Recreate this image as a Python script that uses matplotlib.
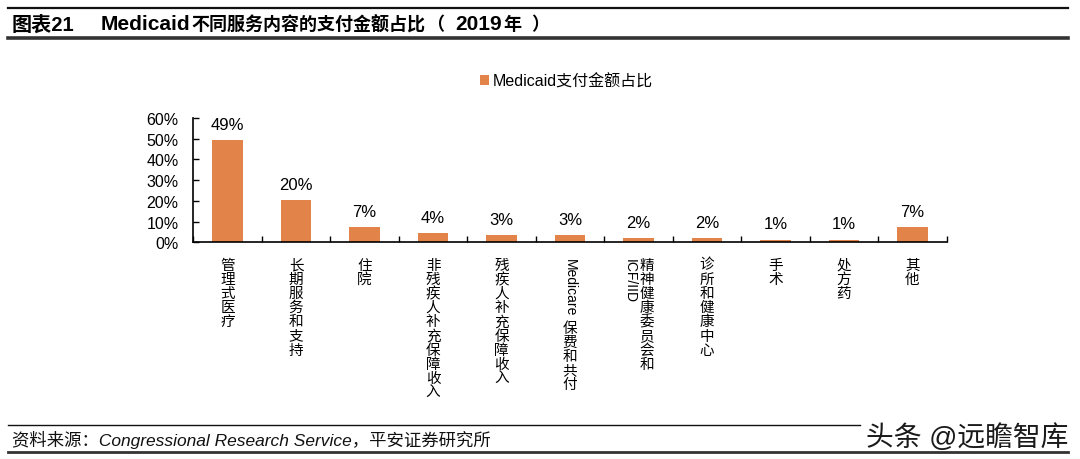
import matplotlib
matplotlib.use("Agg")
import matplotlib.pyplot as plt
import numpy as np

FAM = ['Liberation Sans', 'Noto Sans CJK SC', 'DejaVu Sans']
plt.rcParams['font.family'] = FAM

categories = ['管理式医疗', '长期服务和支持', '住院', '非残疾人补充保障收入', '残疾人补充保障收入',
              'Medicare 保费和共付', '精神健康委员会和\nICF/IID', '诊所和健康中心', '手术', '处方药', '其他']
values = [49.4, 20.4, 7.4, 4.4, 3.6, 3.6, 2.1, 2.1, 1.3, 1.3, 7.4]
value_labels = ['49%', '20%', '7%', '4%', '3%', '3%', '2%', '2%', '1%', '1%', '7%']
yticks = [0, 10, 20, 30, 40, 50, 60]
series_name = 'Medicaid支付金额占比'
title_num = '图表21'
title_parts = ['Medicaid', '不同服务内容的支付金额占比', '（  ', '2019', '年', '  ）']
title_sizes = [15, 13, 13, 15, 13, 13]
source_text = '资料来源：Congressional Research Service，平安证券研究所'
watermark = '头条 @远瞻智库'

BAR = '#E2844A'
W, H = 1080, 460
fig = plt.figure(figsize=(W / 100, H / 100), dpi=100)
renderer = fig.canvas.get_renderer()

# header / footer lines
def hline(y, x0, x1, lw, color):
    fig.add_artist(plt.Line2D([x0 / W, x1 / W], [1 - y / H, 1 - y / H], lw=lw, color=color))

hline(8.5, 8, 1068, 1.6, '#111111')
hline(38.5, 8, 1068, 2.6, '#333333')
hline(426, 8, 860, 1.0, '#111111')
hline(453, 8, 1068, 2.0, '#333333')

base_y = 1 - 30.5 / H
fig.text(12 / W, base_y, title_num, fontsize=14.5, fontweight='bold', va='baseline', ha='left')
xpos = 101.0
for part, fs in zip(title_parts, title_sizes):
    t = fig.text(xpos / W, base_y, part, fontsize=fs, fontweight='bold', va='baseline', ha='left')
    bb = t.get_window_extent(renderer)
    xpos += bb.width + 1.0

fig.text(12 / W, 1 - 440 / H, source_text, fontsize=12.5, style='italic', va='center', ha='left', color='#111111')
fig.text(1068 / W, 1 - 438 / H, watermark, fontsize=20, va='center', ha='right', color='#1a1a1a')

ax = fig.add_axes([193.3 / W, 216.7 / H, (946.7 - 193.3) / W, (243.3 - 119) / H])
x = np.arange(len(categories))
ax.bar(x, values, width=0.45, color=BAR, label=series_name, zorder=2)
ax.set_xlim(-0.5, len(categories) - 0.5)
ax.set_ylim(0, 60)
ax.set_yticks(yticks)
ax.set_yticklabels([f'{v}%' for v in yticks], fontsize=11.5)
ax.tick_params(axis='y', direction='in', length=4, pad=10.5, width=1)
ax.set_xticks(np.arange(-0.5, len(categories), 1))
ax.set_xticklabels([])
ax.tick_params(axis='x', direction='in', length=4, width=1)
for s in ['top', 'right']:
    ax.spines[s].set_visible(False)
for s in ['left', 'bottom']:
    ax.spines[s].set_linewidth(1.2)
    ax.spines[s].set_color('black')

for xi, v, lab in zip(x, values, value_labels):
    ax.annotate(lab, (xi, v), xytext=(0, 6), textcoords='offset points',
                ha='center', va='bottom', fontsize=12)

leg = ax.legend(loc='center', bbox_to_anchor=(566 / W, 1 - 82 / H), bbox_transform=fig.transFigure,
                frameon=False, fontsize=11.5, handlelength=0.6, handleheight=0.6, handletextpad=0.2,
                borderaxespad=0)

# vertical (stacked) category labels
LFS = 10.5
STEP = 14.2 * 0.72   # points per CJK char
TOP = 11.0           # points below axis

def is_cjk(ch):
    return ord(ch) > 0x2E80

def split_runs(line):
    runs = []
    buf = ''
    for ch in line:
        if is_cjk(ch):
            if buf:
                runs.append(('latin', buf)); buf = ''
            runs.append(('cjk', ch))
        else:
            buf += ch
    if buf:
        runs.append(('latin', buf))
    return runs

for xi, lab in zip(x, categories):
    lines = lab.split('\n')
    n = len(lines)
    for li, line in enumerate(lines):
        dx = (n - 1) / 2 * 12 - li * 12
        off = TOP
        for kind, s in split_runs(line):
            if kind == 'cjk':
                ax.annotate(s, (xi, 0), xytext=(dx, -off), textcoords='offset points',
                            ha='center', va='top', fontsize=LFS, annotation_clip=False)
                off += STEP
            else:
                st = s.strip()
                if st:
                    t = ax.annotate(st, (xi, 0), xytext=(dx, -off), textcoords='offset points',
                                    ha='center', va='top', fontsize=LFS - 0.5, rotation=-90,
                                    annotation_clip=False)
                    bb = t.get_window_extent(renderer)
                    off += bb.height * 0.72
                if s.endswith(' '):
                    off += 4.0

fig.savefig('out.png', dpi=100)
